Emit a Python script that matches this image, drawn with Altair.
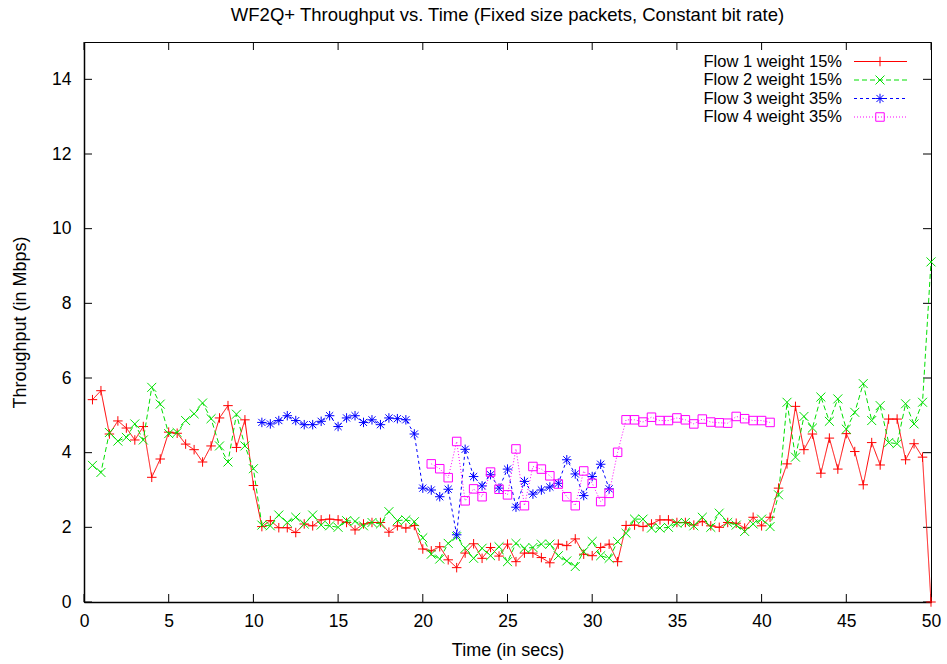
import altair as alt
import pandas as pd

# ---------------- data ----------------
t12 = [0.5 * i for i in range(1, 101)]
flow1 = [5.42, 5.66, 4.50, 4.85, 4.66, 4.34, 4.70, 3.34, 3.83, 4.55,
         4.52, 4.23, 4.08, 3.75, 4.18, 4.93, 5.26, 4.14, 4.88, 3.12,
         2.02, 2.18, 1.99, 1.99, 1.86, 2.09, 2.04, 2.20, 2.22, 2.20,
         2.13, 1.93, 2.09, 2.13, 2.13, 1.87, 2.04, 1.98, 2.05, 1.42,
         1.37, 1.48, 1.13, 0.92, 1.31, 1.56, 1.17, 1.46, 1.23, 1.55,
         1.08, 1.31, 1.31, 1.19, 1.05, 1.55, 1.51, 1.69, 1.28, 1.24,
         1.46, 1.55, 1.08, 2.05, 2.06, 2.02, 2.09, 2.20, 2.20, 2.13,
         2.13, 2.06, 2.16, 2.04, 2.00, 2.13, 2.11, 1.98, 2.27, 2.04,
         2.27, 3.05, 3.70, 5.24, 4.08, 4.50, 3.45, 4.39, 3.56, 4.51,
         4.03, 3.14, 4.27, 3.67, 4.90, 4.90, 3.81, 4.24, 3.88, 0.0]
flow2 = [3.66, 3.47, 4.54, 4.31, 4.41, 4.77, 4.34, 5.75, 5.30, 4.51,
         4.54, 4.86, 5.04, 5.33, 4.91, 4.18, 3.75, 5.03, 4.18, 3.57,
         2.06, 2.04, 2.33, 2.13, 2.27, 2.09, 2.33, 2.06, 2.04, 2.00,
         2.18, 2.16, 2.04, 2.13, 2.09, 2.42, 2.18, 2.20, 2.15, 1.72,
         1.28, 1.15, 1.57, 1.75, 1.44, 1.17, 1.44, 1.24, 1.48, 1.08,
         1.57, 1.44, 1.46, 1.55, 1.55, 1.24, 1.10, 0.95, 1.35, 1.62,
         1.24, 1.17, 1.62, 1.84, 2.22, 2.22, 1.98, 1.98, 2.00, 2.11,
         2.13, 2.04, 2.27, 2.00, 2.38, 2.13, 2.06, 1.89, 2.09, 2.22,
         2.02, 2.87, 5.35, 3.88, 4.97, 4.66, 5.49, 4.84, 5.44, 4.63,
         5.08, 5.85, 4.86, 5.26, 4.27, 4.24, 5.31, 4.77, 5.35, 9.11]
t3 = [10.5 + 0.5 * i for i in range(42)]
flow3 = [4.81, 4.77, 4.86, 4.99, 4.86, 4.75, 4.75, 4.84, 4.99, 4.70,
         4.93, 4.99, 4.81, 4.88, 4.75, 4.93, 4.91, 4.88, 4.50, 3.05,
         3.00, 2.82, 3.02, 1.80, 4.09, 3.36, 3.11, 3.41, 3.05, 3.56,
         2.54, 3.23, 2.89, 3.00, 3.08, 3.18, 3.81, 3.43, 2.85, 3.36,
         3.69, 3.03]
t4 = [20.5 + 0.5 * i for i in range(41)]
flow4 = [3.70, 3.57, 3.33, 4.30, 2.71, 3.03, 2.82, 3.48, 3.02, 2.87,
         4.10, 2.58, 3.63, 3.56, 3.38, 3.16, 2.82, 2.58, 3.51, 3.18,
         2.69, 2.91, 4.01, 4.88, 4.88, 4.82, 4.95, 4.86, 4.86, 4.93,
         4.88, 4.77, 4.90, 4.82, 4.80, 4.79, 4.97, 4.91, 4.86, 4.86,
         4.81]
labels = ["Flow 1 weight 15%", "Flow 2 weight 15%",
          "Flow 3 weight 35%", "Flow 4 weight 35%"]
x_ticks = [0, 5, 10, 15, 20, 25, 30, 35, 40, 45, 50]
y_ticks = [0, 2, 4, 6, 8, 10, 12, 14]

# ---------------- styling ----------------
W, H = 847, 560
FONT = "Liberation Sans"
colors = ["#ff0000", "#00e000", "#0000ff", "#ff00ff"]
dashes = [[1, 0], [5, 3], [3, 3], [1, 2]]
PLUS = "M-1,0L1,0M0,-1L0,1"
CROSS = "M-1,-1L1,1M-1,1L1,-1"
STAR = "M-1,0L1,0M0,-1L0,1M-0.75,-0.75L0.75,0.75M-0.75,0.75L0.75,-0.75"
shapes = [PLUS, CROSS, STAR, "square"]
sizes = [90, 80, 90, 72]

xscale = alt.Scale(domain=[0, 50], nice=False)
yscale = alt.Scale(domain=[0, 15], nice=False)

xaxis = alt.Axis(values=x_ticks, ticks=False, grid=False,
                 domain=True, domainColor="black", domainWidth=1.5,
                 labelFont=FONT, labelFontSize=17.5, labelColor="black",
                 labelPadding=10, labelFlush=False,
                 titleFont=FONT, titleFontSize=18, titleFontWeight="normal",
                 titleColor="black", titlePadding=12)
yaxis = alt.Axis(values=y_ticks, ticks=False, grid=False,
                 domain=True, domainColor="black", domainWidth=1.5,
                 labelFont=FONT, labelFontSize=17.5, labelColor="black",
                 labelPadding=13, labelFlush=False,
                 titleFont=FONT, titleFontSize=18, titleFontWeight="normal",
                 titleColor="black", titlePadding=22)

def X():
    return alt.X("t:Q", scale=xscale, axis=xaxis, title="Time (in secs)")

def Y():
    return alt.Y("v:Q", scale=yscale, axis=yaxis, title="Throughput (in Mbps)")

series = [(t12, flow1), (t12, flow2), (t3, flow3), (t4, flow4)]

layers = []
for i, (tt, vv) in enumerate(series):
    df = pd.DataFrame({"t": tt, "v": vv})
    line = alt.Chart(df).mark_line(color=colors[i], strokeWidth=1,
                                   strokeDash=dashes[i]).encode(x=X(), y=Y())
    pts = alt.Chart(df).mark_point(shape=shapes[i], filled=False, color=colors[i],
                                   strokeWidth=1, size=sizes[i], opacity=1).encode(
        x=X(), y=Y())
    layers += [line, pts]

# ---------------- inward ticks (border mirrored) ----------------
ydf = pd.DataFrame({"v": y_ticks})
xdf = pd.DataFrame({"t": x_ticks})
TL = 8
tick_layers = [
    alt.Chart(ydf).mark_rule(color="black", strokeWidth=1).encode(
        y=Y(), x=alt.value(0), x2=alt.value(TL)),
    alt.Chart(ydf).mark_rule(color="black", strokeWidth=1).encode(
        y=Y(), x=alt.value(W - TL), x2=alt.value(W)),
    alt.Chart(xdf).mark_rule(color="black", strokeWidth=1).encode(
        x=X(), y=alt.value(H - TL), y2=alt.value(H)),
    alt.Chart(xdf).mark_rule(color="black", strokeWidth=1).encode(
        x=X(), y=alt.value(0), y2=alt.value(TL)),
]

# ---------------- gnuplot-style key (top right) ----------------
key_layers = []
row_y = [19.5, 38, 56.5, 75]
one = pd.DataFrame({"k": [0]})
for i in range(4):
    key_layers.append(alt.Chart(one).mark_text(
        text=labels[i], align="right", baseline="middle", font=FONT,
        fontSize=16.5, color="black").encode(x=alt.value(758), y=alt.value(row_y[i])))
    key_layers.append(alt.Chart(one).mark_rule(
        color=colors[i], strokeWidth=1, strokeDash=dashes[i]).encode(
        x=alt.value(770), x2=alt.value(823), y=alt.value(row_y[i])))
    key_layers.append(alt.Chart(one).mark_point(
        shape=shapes[i], filled=False, color=colors[i], strokeWidth=1,
        size=sizes[i], opacity=1).encode(x=alt.value(796), y=alt.value(row_y[i])))

chart = alt.layer(*tick_layers, *layers, *key_layers).properties(
    width=W, height=H,
    title=alt.TitleParams(
        "WF2Q+ Throughput vs. Time (Fixed size packets, Constant bit rate)",
        font=FONT, fontSize=18.5, fontWeight="normal", color="black",
        anchor="middle", frame="group", offset=17),
    autosize=alt.AutoSizeParams(type="none"),
    padding={"left": 84, "top": 42, "right": 16, "bottom": 62},
    background="white",
).configure_view(stroke="black", strokeWidth=1)

chart.save("out.html", embed_options={"renderer": "svg", "actions": False})
